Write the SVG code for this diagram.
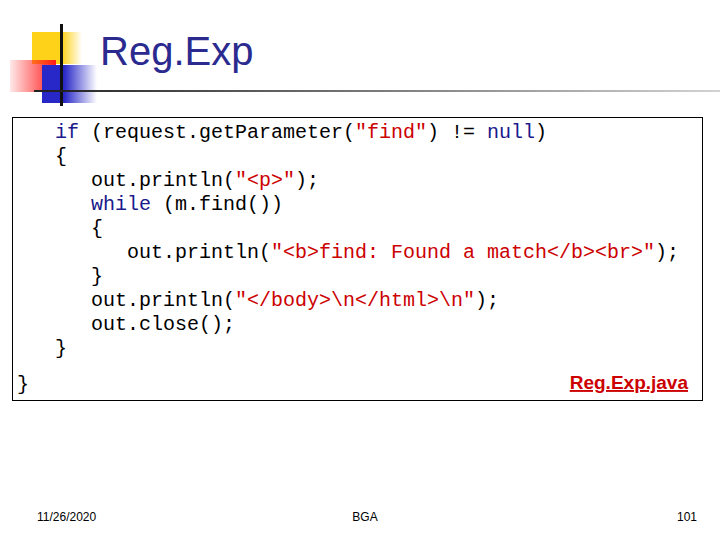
<svg xmlns="http://www.w3.org/2000/svg" width="720" height="540" viewBox="0 0 720 540">
<defs>
<linearGradient id="yl" x1="0" x2="1"><stop offset="0.6" stop-color="#ffd21a"/><stop offset="1" stop-color="#ffd21a" stop-opacity="0"/></linearGradient>
<linearGradient id="rd" x1="1" x2="0"><stop offset="0" stop-color="#ff1a1a"/><stop offset="1" stop-color="#ff1a1a" stop-opacity="0.1"/></linearGradient>
<linearGradient id="bl" x1="0" x2="1"><stop offset="0.4" stop-color="#2828c8"/><stop offset="1" stop-color="#2828c8" stop-opacity="0"/></linearGradient>
<linearGradient id="ln" x1="0" x2="1"><stop offset="0" stop-color="#222"/><stop offset="1" stop-color="#222" stop-opacity="0.2"/></linearGradient>
<style>
.c{font-family:"Liberation Mono","Courier New",monospace;font-size:20px;fill:#000}
.k{fill:#1a1a8c}.s{fill:#cc0000}
.f{font-family:"Liberation Sans",Arial,sans-serif;font-size:12px;fill:#000}
</style>
</defs>
<g id="logo">
<rect x="32" y="32" width="50" height="32" fill="url(#yl)"/>
<rect x="10" y="60" width="46" height="32" fill="url(#rd)"/>
<rect x="42" y="65" width="55" height="38" fill="url(#bl)"/>
<rect x="60" y="24" width="3" height="82" fill="#111"/>
<rect x="34" y="90" width="686" height="2" fill="url(#ln)"/>
</g>
<text x="100" y="65" font-family="Liberation Sans,Arial,sans-serif" font-size="40" fill="#2b2b8f">Reg.Exp</text>
<g id="code">
<rect x="12.5" y="117.5" width="690" height="283" fill="#fff" stroke="#000" stroke-width="1"/>
<text class="c" xml:space="preserve"><tspan x="55" y="138"><tspan class="k">if</tspan> (request.getParameter(<tspan class="s">"find"</tspan>) != <tspan class="k">null</tspan>)</tspan><tspan x="55" y="162">{</tspan><tspan x="91" y="186">out.println(<tspan class="s">"&lt;p&gt;"</tspan>);</tspan><tspan x="91" y="210"><tspan class="k">while</tspan> (m.find())</tspan><tspan x="91" y="234">{</tspan><tspan x="127" y="258">out.println(<tspan class="s">"&lt;b&gt;find: Found a match&lt;/b&gt;&lt;br&gt;"</tspan>);</tspan><tspan x="91" y="282">}</tspan><tspan x="91" y="306">out.println(<tspan class="s">"&lt;/body&gt;\n&lt;/html&gt;\n"</tspan>);</tspan><tspan x="91" y="330">out.close();</tspan><tspan x="55" y="354">}</tspan><tspan x="17" y="390">}</tspan></text>
<text x="688" y="389" text-anchor="end" font-family="Liberation Sans,Arial,sans-serif" font-size="19" font-weight="bold" fill="#cc0000" text-decoration="underline">Reg.Exp.java</text>
</g>
<text class="f" x="37" y="521">11/26/2020</text>
<text class="f" x="365" y="521" text-anchor="middle">BGA</text>
<text class="f" x="697" y="521" text-anchor="end">101</text>
</svg>
